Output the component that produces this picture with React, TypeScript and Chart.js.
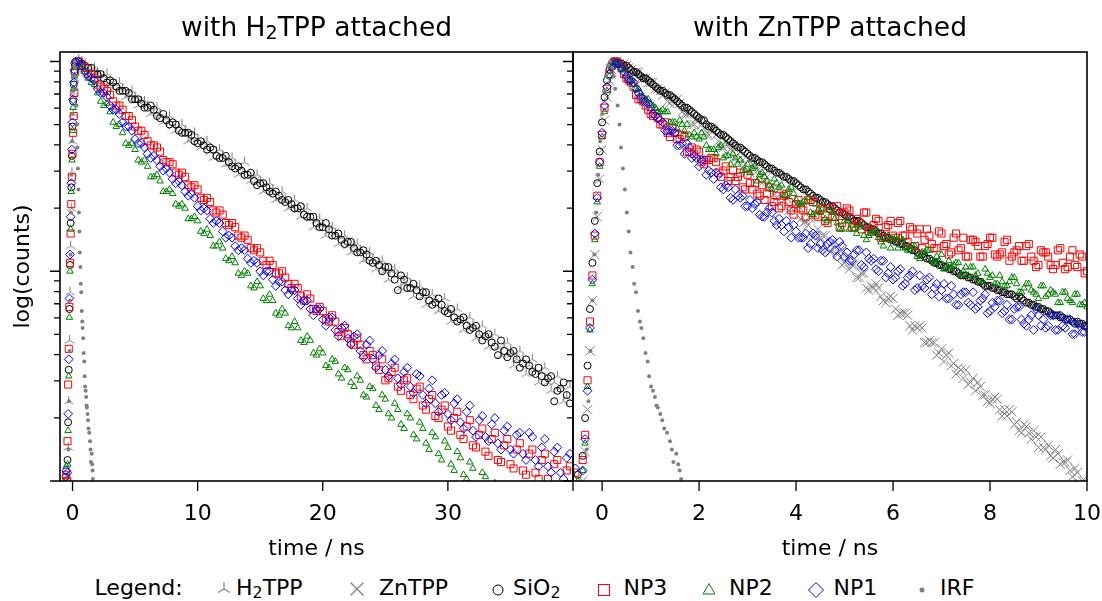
import React, { useEffect, useRef } from "react";
import { Chart, registerables } from "chart.js";
Chart.register(...registerables);

const FONT = "'DejaVu Sans', 'Liberation Sans', sans-serif";
const GRAY = "#808080";
const RED = "#ff0000";
const GREEN = "#008000";
const BLUE = "#0000ff";
const BLACK = "#000000";

// ---------- sample times (ns) ----------
const riseTimes = [-0.55, -0.5, -0.45, -0.4, -0.35, -0.3, -0.25, -0.2, -0.15, -0.1, -0.05, 0, 0.05, 0.1, 0.15, 0.2, 0.25];
const leftDecayTimes = [
  0.5, 1, 1.5, 2, 2.5, 3, 3.5, 4, 4.5, 5, 5.5, 6, 6.5, 7, 7.5, 8, 8.5, 9, 9.5, 10,
  10.5, 11, 11.5, 12, 12.5, 13, 13.5, 14, 14.5, 15, 15.5, 16, 16.5, 17, 17.5, 18, 18.5, 19, 19.5, 20,
  20.5, 21, 21.5, 22, 22.5, 23, 23.5, 24, 24.5, 25, 25.5, 26, 26.5, 27, 27.5, 28, 28.5, 29, 29.5, 30,
  30.5, 31, 31.5, 32, 32.5, 33, 33.5, 34, 34.5, 35, 35.5, 36, 36.5, 37, 37.5, 38, 38.5, 39, 39.5,
];
const leftMidTimes = [
  0.75, 1.25, 1.75, 2.25, 2.75, 3.25, 3.75, 4.25, 4.75, 5.25, 5.75, 6.25, 6.75, 7.25, 7.75, 8.25, 8.75, 9.25, 9.75, 10.25,
  10.75, 11.25, 11.75, 12.25, 12.75, 13.25, 13.75, 14.25, 14.75, 15.25, 15.75, 16.25, 16.75, 17.25, 17.75, 18.25, 18.75, 19.25, 19.75, 20.25,
  20.75, 21.25, 21.75, 22.25, 22.75, 23.25, 23.75, 24.25, 24.75, 25.25, 25.75, 26.25, 26.75, 27.25, 27.75, 28.25, 28.75, 29.25, 29.75, 30.25,
  30.75, 31.25, 31.75, 32.25, 32.75, 33.25, 33.75, 34.25, 34.75, 35.25, 35.75, 36.25, 36.75, 37.25, 37.75, 38.25, 38.75, 39.25, 39.75,
];
const rightDecayTimes = [
  0.3, 0.4, 0.5, 0.6, 0.7, 0.8, 0.9, 1.0, 1.1, 1.2, 1.3, 1.4, 1.5, 1.6, 1.7, 1.8, 1.9, 2.0, 2.1, 2.2,
  2.3, 2.4, 2.5, 2.6, 2.7, 2.8, 2.9, 3.0, 3.1, 3.2, 3.3, 3.4, 3.5, 3.6, 3.7, 3.8, 3.9, 4.0, 4.1, 4.2,
  4.3, 4.4, 4.5, 4.6, 4.7, 4.8, 4.9, 5.0, 5.1, 5.2, 5.3, 5.4, 5.5, 5.6, 5.7, 5.8, 5.9, 6.0, 6.1, 6.2,
  6.3, 6.4, 6.5, 6.6, 6.7, 6.8, 6.9, 7.0, 7.1, 7.2, 7.3, 7.4, 7.5, 7.6, 7.7, 7.8, 7.9, 8.0, 8.1, 8.2,
  8.3, 8.4, 8.5, 8.6, 8.7, 8.8, 8.9, 9.0, 9.1, 9.2, 9.3, 9.4, 9.5, 9.6, 9.7, 9.8, 9.9, 10.0,
];
const rightMidTimes = [
  0.35, 0.45, 0.55, 0.65, 0.75, 0.85, 0.95, 1.05, 1.15, 1.25, 1.35, 1.45, 1.55, 1.65, 1.75, 1.85, 1.95, 2.05, 2.15, 2.25,
  2.35, 2.45, 2.55, 2.65, 2.75, 2.85, 2.95, 3.05, 3.15, 3.25, 3.35, 3.45, 3.55, 3.65, 3.75, 3.85, 3.95, 4.05, 4.15, 4.25,
  4.35, 4.45, 4.55, 4.65, 4.75, 4.85, 4.95, 5.05, 5.15, 5.25, 5.35, 5.45, 5.55, 5.65, 5.75, 5.85, 5.95, 6.05, 6.15, 6.25,
  6.35, 6.45, 6.55, 6.65, 6.75, 6.85, 6.95, 7.05, 7.15, 7.25, 7.35, 7.45, 7.55, 7.65, 7.75, 7.85, 7.95, 8.05, 8.15, 8.25,
  8.35, 8.45, 8.55, 8.65, 8.75, 8.85, 8.95, 9.05, 9.15, 9.25, 9.35, 9.45, 9.55, 9.65, 9.75, 9.85, 9.95,
];
const irfTimes = [
  -0.36, -0.32, -0.28, -0.24, -0.2, -0.16, -0.12, -0.08, -0.04, 0.0, 0.04, 0.08, 0.12, 0.165, 0.21, 0.24, 0.27, 0.32, 0.36, 0.39,
  0.43, 0.47, 0.51, 0.55, 0.585, 0.63, 0.66, 0.7, 0.74, 0.78, 0.81, 0.85, 0.895, 0.94, 0.97, 1.01, 1.05, 1.09, 1.12, 1.15,
  1.2, 1.24, 1.28, 1.34, 1.4, 1.44, 1.47, 1.53, 1.57, 1.6, 1.63, 1.68,
];

// ---------- tick positions ----------
const leftXTicks = [0, 10, 20, 30, 40];
const rightXTicks = [0, 2, 4, 6, 8, 10];
const leftXRange = [-1, 40];
const rightXRange = [-0.6, 10];
const yRange = [0.01, 1.11];

// ---------- log10(normalised counts) ----------
const irfLog = [
  -2.05, -1.85, -1.62, -1.38, -1.14, -0.92, -0.72, -0.54, -0.38, -0.25, -0.14, -0.07, -0.02, 0.0, -0.03, -0.07, -0.13, -0.21, -0.3, -0.41,
  -0.51, -0.61, -0.72, -0.81, -0.91, -0.98, -1.06, -1.1, -1.19, -1.24, -1.27, -1.32, -1.39, -1.43, -1.5, -1.55, -1.57, -1.6, -1.64, -1.65,
  -1.68, -1.71, -1.75, -1.77, -1.81, -1.85, -1.91, -1.87, -1.92, -1.95, -1.99, -2.05,
];

// left panel (with H2TPP attached)
const h2tppRiseL = [-2.04, -2.1, -2.15, -1.98, -1.84, -1.62, -1.33, -1.1, -0.88, -0.7, -0.53, -0.38, -0.25, -0.15, -0.08, -0.03, -0.01];
const h2tppDecayL = [
  0.01, -0.01, -0.04, -0.05, -0.07, -0.1, -0.11, -0.13, -0.16, -0.17,
  -0.19, -0.21, -0.24, -0.25, -0.27, -0.31, -0.31, -0.33, -0.37, -0.37,
  -0.39, -0.43, -0.43, -0.45, -0.49, -0.49, -0.51, -0.55, -0.55, -0.57,
  -0.61, -0.61, -0.65, -0.66, -0.69, -0.71, -0.71, -0.75, -0.76, -0.78,
  -0.81, -0.82, -0.84, -0.88, -0.88, -0.9, -0.94, -0.94, -0.96, -1.0,
  -1.0, -1.02, -1.06, -1.06, -1.08, -1.12, -1.12, -1.14, -1.18, -1.18,
  -1.2, -1.24, -1.24, -1.26, -1.3, -1.3, -1.32, -1.36, -1.36, -1.38,
  -1.42, -1.42, -1.45, -1.47, -1.48, -1.53, -1.53, -1.55, -1.6,
];
const h2tppMidL = [
  0.0, -0.05, -0.03, -0.09, -0.06, -0.13, -0.1, -0.17, -0.14, -0.21,
  -0.19, -0.25, -0.22, -0.29, -0.26, -0.33, -0.3, -0.38, -0.34, -0.41,
  -0.38, -0.46, -0.42, -0.49, -0.46, -0.54, -0.48, -0.57, -0.54, -0.62,
  -0.58, -0.66, -0.62, -0.7, -0.66, -0.74, -0.7, -0.79, -0.75, -0.83,
  -0.79, -0.87, -0.83, -0.91, -0.87, -0.95, -0.91, -0.99, -0.95, -1.04,
  -0.99, -1.08, -1.03, -1.12, -1.07, -1.16, -1.11, -1.19, -1.13, -1.24,
  -1.18, -1.28, -1.22, -1.32, -1.26, -1.36, -1.3, -1.4, -1.34, -1.45,
  -1.38, -1.49, -1.42, -1.53, -1.46, -1.57, -1.5, -1.62, -1.55,
];
const sio2RiseL = [-1.98, -2.06, -2.05, -1.9, -1.72, -1.47, -1.18, -0.97, -0.77, -0.6, -0.45, -0.31, -0.19, -0.11, -0.05, -0.02, 0.0];
const sio2DecayL = [
  0.0, -0.02, -0.03, -0.06, -0.08, -0.09, -0.12, -0.14, -0.15, -0.18,
  -0.2, -0.22, -0.23, -0.27, -0.28, -0.29, -0.33, -0.34, -0.35, -0.39,
  -0.4, -0.41, -0.45, -0.46, -0.48, -0.51, -0.52, -0.54, -0.57, -0.58,
  -0.6, -0.63, -0.64, -0.67, -0.68, -0.7, -0.73, -0.74, -0.77, -0.79,
  -0.8, -0.83, -0.85, -0.86, -0.89, -0.91, -0.92, -0.96, -0.97, -0.98,
  -1.01, -1.09, -1.04, -1.08, -1.09, -1.1, -1.14, -1.15, -1.16, -1.2,
  -1.22, -1.23, -1.26, -1.27, -1.3, -1.31, -1.34, -1.4, -1.38, -1.39,
  -1.42, -1.44, -1.45, -1.49, -1.5, -1.51, -1.62, -1.56, -1.59,
];
const sio2MidL = [
  -0.01, -0.03, -0.06, -0.06, -0.1, -0.1, -0.14, -0.14, -0.18, -0.18,
  -0.22, -0.21, -0.26, -0.25, -0.3, -0.3, -0.34, -0.34, -0.38, -0.38,
  -0.42, -0.42, -0.46, -0.45, -0.5, -0.5, -0.54, -0.53, -0.59, -0.58,
  -0.62, -0.62, -0.66, -0.66, -0.7, -0.69, -0.74, -0.74, -0.79, -0.77,
  -0.83, -0.82, -0.87, -0.86, -0.91, -0.9, -0.95, -0.95, -1.0, -0.98,
  -1.04, -1.02, -1.08, -1.06, -1.12, -1.1, -1.16, -1.13, -1.19, -1.18,
  -1.24, -1.22, -1.28, -1.26, -1.33, -1.3, -1.36, -1.33, -1.41, -1.38,
  -1.46, -1.42, -1.48, -1.46, -1.53, -1.5, -1.57, -1.53, -1.63,
];
const np3RiseL = [-2.05, -1.97, -2.0, -1.81, -1.54, -1.37, -1.17, -0.96, -0.82, -0.68, -0.55, -0.44, -0.34, -0.26, -0.15, -0.05, -0.01];
const np3DecayL = [
  0.0, -0.03, -0.06, -0.11, -0.13, -0.16, -0.21, -0.23, -0.26, -0.31,
  -0.33, -0.38, -0.4, -0.43, -0.48, -0.49, -0.54, -0.55, -0.6, -0.61,
  -0.66, -0.67, -0.72, -0.73, -0.78, -0.79, -0.84, -0.85, -0.9, -0.91,
  -0.97, -0.97, -1.01, -1.03, -1.08, -1.08, -1.14, -1.13, -1.19, -1.19,
  -1.24, -1.24, -1.31, -1.3, -1.35, -1.35, -1.42, -1.4, -1.47, -1.52,
  -1.48, -1.55, -1.52, -1.59, -1.56, -1.64, -1.61, -1.69, -1.66, -1.74,
  -1.7, -1.78, -1.74, -1.83, -1.78, -1.86, -1.8, -1.9, -1.83, -1.92,
  -1.85, -1.95, -1.87, -1.96, -1.9, -1.99, -1.92, -2.02, -1.95,
];
const np3MidL = [
  -0.02, -0.06, -0.08, -0.12, -0.14, -0.19, -0.21, -0.26, -0.28, -0.33,
  -0.35, -0.4, -0.41, -0.47, -0.48, -0.53, -0.53, -0.59, -0.59, -0.65,
  -0.65, -0.71, -0.71, -0.77, -0.77, -0.83, -0.83, -0.89, -0.89, -0.95,
  -0.95, -1.01, -1.0, -1.06, -1.06, -1.12, -1.11, -1.18, -1.17, -1.23,
  -1.21, -1.29, -1.27, -1.34, -1.32, -1.4, -1.38, -1.45, -1.42, -1.51,
  -1.46, -1.57, -1.51, -1.61, -1.55, -1.66, -1.59, -1.7, -1.64, -1.76,
  -1.67, -1.8, -1.71, -1.84, -1.75, -1.88, -1.77, -1.91, -1.8, -1.94,
  -1.82, -1.97, -1.85, -1.99, -1.87, -2.02, -1.9, -2.03, -1.93,
];
const np2RiseL = [-2.08, -1.93, -2.08, -1.92, -1.76, -1.5, -1.22, -1.0, -0.8, -0.62, -0.47, -0.33, -0.22, -0.13, -0.07, -0.03, -0.01];
const np2DecayL = [
  -0.01, -0.05, -0.1, -0.15, -0.21, -0.24, -0.31, -0.34, -0.4, -0.42,
  -0.48, -0.5, -0.55, -0.57, -0.62, -0.63, -0.69, -0.7, -0.75, -0.76,
  -0.82, -0.83, -0.88, -0.89, -0.95, -0.96, -1.02, -1.01, -1.08, -1.07,
  -1.14, -1.14, -1.21, -1.2, -1.27, -1.27, -1.34, -1.33, -1.4, -1.39,
  -1.46, -1.43, -1.51, -1.47, -1.55, -1.52, -1.6, -1.56, -1.66, -1.61,
  -1.7, -1.66, -1.75, -1.7, -1.8, -1.75, -1.85, -1.79, -1.9, -1.84,
  -1.95, -1.89, -1.99, -1.94, -2.04, -1.98, -2.08, -2.03, -2.12, -2.08,
  -2.16, -2.12, -2.2, -2.16, -2.24, -2.2, -2.28, -2.24, -2.32,
];
const np2MidL = [
  -0.03, -0.08, -0.11, -0.19, -0.2, -0.29, -0.3, -0.39, -0.39, -0.47,
  -0.47, -0.55, -0.54, -0.62, -0.61, -0.68, -0.68, -0.75, -0.74, -0.81,
  -0.8, -0.88, -0.86, -0.94, -0.93, -1.01, -1.0, -1.07, -1.05, -1.13,
  -1.11, -1.2, -1.18, -1.26, -1.24, -1.33, -1.31, -1.39, -1.37, -1.45,
  -1.42, -1.49, -1.46, -1.53, -1.5, -1.59, -1.55, -1.64, -1.59, -1.68,
  -1.63, -1.73, -1.68, -1.78, -1.72, -1.82, -1.77, -1.87, -1.81, -1.92,
  -1.86, -1.97, -1.91, -2.02, -1.96, -2.06, -2.01, -2.1, -2.05, -2.14,
  -2.09, -2.18, -2.13, -2.22, -2.17, -2.26, -2.21, -2.3, -2.25,
];
const np1RiseL = [-2.02, -1.95, -2.12, -1.96, -1.68, -1.42, -1.13, -0.92, -0.74, -0.58, -0.42, -0.29, -0.18, -0.1, -0.04, -0.01, 0.0];
const np1DecayL = [
  0.0, -0.05, -0.08, -0.13, -0.15, -0.21, -0.23, -0.29, -0.31, -0.37,
  -0.39, -0.44, -0.45, -0.5, -0.51, -0.56, -0.57, -0.62, -0.63, -0.69,
  -0.7, -0.75, -0.76, -0.81, -0.83, -0.88, -0.89, -0.94, -0.95, -1.0,
  -1.0, -1.04, -1.05, -1.09, -1.09, -1.13, -1.14, -1.18, -1.18, -1.23,
  -1.22, -1.28, -1.27, -1.32, -1.31, -1.38, -1.35, -1.42, -1.4, -1.47,
  -1.44, -1.51, -1.48, -1.55, -1.49, -1.59, -1.56, -1.63, -1.59, -1.68,
  -1.63, -1.72, -1.67, -1.76, -1.71, -1.79, -1.73, -1.82, -1.76, -1.85,
  -1.78, -1.87, -1.77, -1.9, -1.84, -1.93, -1.86, -1.96, -1.89,
];
const np1MidL = [
  -0.02, -0.07, -0.09, -0.15, -0.17, -0.23, -0.25, -0.31, -0.33, -0.39,
  -0.41, -0.46, -0.47, -0.52, -0.53, -0.58, -0.59, -0.64, -0.65, -0.71,
  -0.71, -0.77, -0.77, -0.84, -0.84, -0.9, -0.9, -0.96, -0.96, -1.02,
  -1.0, -1.07, -1.05, -1.11, -1.09, -1.16, -1.14, -1.21, -1.18, -1.26,
  -1.22, -1.31, -1.26, -1.35, -1.3, -1.41, -1.33, -1.46, -1.38, -1.5,
  -1.42, -1.54, -1.46, -1.58, -1.5, -1.63, -1.52, -1.67, -1.58, -1.71,
  -1.61, -1.75, -1.64, -1.79, -1.69, -1.81, -1.7, -1.85, -1.74, -1.87,
  -1.77, -1.9, -1.79, -1.93, -1.8, -1.96, -1.84, -1.99, -1.87,
];

// right panel (with ZnTPP attached)
const zntppRiseR = [-2.03, -2.12, -2.15, -2.0, -1.86, -1.66, -1.38, -1.14, -0.92, -0.74, -0.56, -0.42, -0.28, -0.17, -0.09, -0.04, -0.01];
const zntppDecayR = [
  0.0, -0.02, -0.02, -0.04, -0.05, -0.08, -0.08, -0.1, -0.13, -0.14,
  -0.15, -0.2, -0.2, -0.2, -0.25, -0.25, -0.3, -0.28, -0.32, -0.35,
  -0.33, -0.38, -0.41, -0.4, -0.4, -0.47, -0.47, -0.52, -0.49, -0.52,
  -0.58, -0.55, -0.59, -0.65, -0.64, -0.65, -0.7, -0.68, -0.75, -0.76,
  -0.75, -0.83, -0.84, -0.83, -0.91, -0.89, -0.9, -0.96, -0.99, -0.97,
  -1.03, -1.01, -1.09, -1.08, -1.08, -1.14, -1.13, -1.13, -1.21, -1.2,
  -1.21, -1.28, -1.27, -1.27, -1.34, -1.34, -1.4, -1.37, -1.4, -1.45,
  -1.49, -1.47, -1.47, -1.53, -1.57, -1.55, -1.59, -1.63, -1.6, -1.66,
  -1.66, -1.66, -1.73, -1.76, -1.73, -1.77, -1.76, -1.84, -1.84, -1.83,
  -1.89, -1.87, -1.91, -1.9, -1.98, -1.96, -2.0, -2.02,
];
const zntppMidR = [
  -0.01, -0.01, -0.03, -0.06, -0.05, -0.08, -0.1, -0.1, -0.13, -0.16,
  -0.19, -0.18, -0.18, -0.24, -0.25, -0.3, -0.27, -0.3, -0.35, -0.32,
  -0.35, -0.41, -0.38, -0.42, -0.46, -0.43, -0.49, -0.53, -0.5, -0.55,
  -0.54, -0.6, -0.63, -0.61, -0.66, -0.71, -0.69, -0.69, -0.77, -0.78,
  -0.83, -0.8, -0.83, -0.89, -0.86, -0.92, -0.97, -0.94, -0.97, -1.03,
  -1.01, -1.08, -1.07, -1.06, -1.12, -1.15, -1.12, -1.18, -1.2, -1.2,
  -1.26, -1.26, -1.26, -1.34, -1.33, -1.34, -1.39, -1.43, -1.39, -1.44,
  -1.46, -1.51, -1.54, -1.51, -1.53, -1.59, -1.62, -1.61, -1.61, -1.69,
  -1.69, -1.67, -1.72, -1.77, -1.74, -1.8, -1.79, -1.79, -1.85, -1.88,
  -1.85, -1.92, -1.91, -1.95, -1.94, -2.01, -2.0,
];
const sio2RiseR = [-2.1, -1.97, -2.05, -1.88, -1.7, -1.45, -1.18, -0.96, -0.76, -0.58, -0.43, -0.29, -0.17, -0.09, -0.04, -0.01, 0.0];
const sio2DecayR = [
  0.0, -0.01, -0.02, -0.04, -0.05, -0.07, -0.08, -0.1, -0.12, -0.14,
  -0.15, -0.16, -0.18, -0.2, -0.22, -0.23, -0.25, -0.27, -0.28, -0.31,
  -0.32, -0.34, -0.35, -0.37, -0.39, -0.41, -0.42, -0.44, -0.46, -0.47,
  -0.48, -0.5, -0.51, -0.53, -0.54, -0.55, -0.57, -0.58, -0.6, -0.61,
  -0.63, -0.65, -0.66, -0.67, -0.69, -0.7, -0.72, -0.73, -0.74, -0.76,
  -0.76, -0.78, -0.79, -0.8, -0.82, -0.83, -0.84, -0.85, -0.86, -0.87,
  -0.88, -0.9, -0.91, -0.92, -0.94, -0.95, -0.96, -0.97, -0.98, -0.99,
  -1.0, -1.02, -1.02, -1.03, -1.04, -1.05, -1.07, -1.07, -1.08, -1.09,
  -1.1, -1.11, -1.12, -1.12, -1.14, -1.15, -1.16, -1.17, -1.18, -1.19,
  -1.21, -1.21, -1.22, -1.23, -1.24, -1.24, -1.25, -1.26,
];
const sio2MidR = [
  -0.01, -0.02, -0.03, -0.05, -0.06, -0.08, -0.09, -0.11, -0.13, -0.14,
  -0.16, -0.17, -0.19, -0.21, -0.22, -0.24, -0.26, -0.28, -0.3, -0.31,
  -0.33, -0.35, -0.36, -0.38, -0.4, -0.41, -0.43, -0.45, -0.46, -0.48,
  -0.49, -0.51, -0.52, -0.53, -0.55, -0.56, -0.57, -0.59, -0.61, -0.62,
  -0.64, -0.65, -0.67, -0.68, -0.69, -0.71, -0.72, -0.74, -0.75, -0.76,
  -0.77, -0.79, -0.8, -0.81, -0.82, -0.84, -0.85, -0.86, -0.87, -0.88,
  -0.89, -0.9, -0.92, -0.93, -0.94, -0.96, -0.97, -0.98, -0.99, -1.0,
  -1.01, -1.02, -1.03, -1.04, -1.05, -1.06, -1.07, -1.08, -1.09, -1.1,
  -1.11, -1.11, -1.13, -1.13, -1.15, -1.16, -1.17, -1.18, -1.19, -1.2,
  -1.21, -1.22, -1.23, -1.23, -1.25, -1.25, -1.26,
];
const np3RiseR = [-1.96, -2.04, -2.08, -1.9, -1.78, -1.52, -1.24, -1.02, -0.83, -0.64, -0.48, -0.35, -0.22, -0.13, -0.06, -0.02, 0.0];
const np3DecayR = [
  0.0, -0.03, -0.08, -0.1, -0.16, -0.18, -0.21, -0.25, -0.25, -0.3,
  -0.29, -0.36, -0.34, -0.37, -0.36, -0.43, -0.44, -0.43, -0.49, -0.47,
  -0.46, -0.53, -0.52, -0.57, -0.52, -0.55, -0.6, -0.54, -0.61, -0.63,
  -0.59, -0.63, -0.69, -0.64, -0.69, -0.63, -0.71, -0.68, -0.7, -0.74,
  -0.66, -0.73, -0.71, -0.76, -0.7, -0.74, -0.79, -0.72, -0.71, -0.79,
  -0.77, -0.72, -0.81, -0.78, -0.76, -0.84, -0.78, -0.83, -0.77, -0.83,
  -0.86, -0.8, -0.82, -0.89, -0.8, -0.87, -0.89, -0.82, -0.87, -0.91,
  -0.82, -0.89, -0.93, -0.85, -0.86, -0.93, -0.88, -0.84, -0.92, -0.92,
  -0.86, -0.95, -0.91, -0.88, -0.95, -0.87, -0.95, -0.97, -0.91, -0.93,
  -0.99, -0.9, -0.96, -0.98, -0.9, -0.98, -0.93, -1.0,
];
const np3MidR = [
  -0.01, -0.06, -0.09, -0.12, -0.18, -0.19, -0.23, -0.26, -0.27, -0.3,
  -0.34, -0.32, -0.37, -0.35, -0.43, -0.41, -0.42, -0.48, -0.47, -0.46,
  -0.48, -0.55, -0.5, -0.55, -0.57, -0.53, -0.61, -0.58, -0.58, -0.64,
  -0.66, -0.6, -0.67, -0.7, -0.64, -0.67, -0.73, -0.66, -0.71, -0.66,
  -0.67, -0.74, -0.7, -0.77, -0.74, -0.69, -0.77, -0.7, -0.79, -0.75,
  -0.8, -0.72, -0.8, -0.75, -0.84, -0.79, -0.76, -0.84, -0.76, -0.83,
  -0.79, -0.88, -0.8, -0.85, -0.83, -0.89, -0.81, -0.88, -0.92, -0.84,
  -0.9, -0.84, -0.93, -0.85, -0.88, -0.93, -0.87, -0.84, -0.93, -0.91,
  -0.85, -0.93, -0.9, -0.95, -0.88, -0.93, -0.98, -0.9, -0.91, -0.97,
  -0.97, -0.89, -0.99, -0.93, -0.97, -0.92, -1.01,
];
const np2RiseR = [-2.06, -2.0, -2.1, -1.95, -1.82, -1.55, -1.28, -1.06, -0.85, -0.67, -0.5, -0.36, -0.24, -0.14, -0.07, -0.03, -0.01];
const np2DecayR = [
  0.0, -0.04, -0.06, -0.09, -0.13, -0.15, -0.18, -0.2, -0.22, -0.24,
  -0.24, -0.29, -0.29, -0.28, -0.33, -0.35, -0.34, -0.37, -0.36, -0.42,
  -0.42, -0.41, -0.46, -0.45, -0.44, -0.49, -0.52, -0.49, -0.51, -0.57,
  -0.53, -0.57, -0.61, -0.58, -0.59, -0.64, -0.6, -0.66, -0.68, -0.67,
  -0.72, -0.68, -0.72, -0.75, -0.71, -0.75, -0.8, -0.76, -0.8, -0.8,
  -0.78, -0.83, -0.83, -0.81, -0.84, -0.88, -0.83, -0.85, -0.89, -0.85,
  -0.9, -0.88, -0.93, -0.91, -0.9, -0.95, -0.93, -0.92, -0.98, -0.98,
  -0.96, -1.02, -0.98, -0.98, -1.02, -1.05, -0.99, -1.03, -1.06, -1.02,
  -1.07, -1.05, -1.03, -1.1, -1.08, -1.06, -1.1, -1.13, -1.07, -1.11,
  -1.1, -1.15, -1.1, -1.13, -1.15, -1.11, -1.16, -1.17,
];
const np2MidR = [
  -0.02, -0.04, -0.09, -0.11, -0.13, -0.17, -0.18, -0.21, -0.24, -0.23,
  -0.24, -0.29, -0.32, -0.3, -0.3, -0.36, -0.36, -0.34, -0.4, -0.42,
  -0.44, -0.4, -0.45, -0.49, -0.46, -0.47, -0.52, -0.53, -0.5, -0.54,
  -0.55, -0.59, -0.56, -0.6, -0.64, -0.61, -0.63, -0.68, -0.67, -0.65,
  -0.73, -0.71, -0.7, -0.76, -0.72, -0.77, -0.8, -0.76, -0.78, -0.82,
  -0.79, -0.85, -0.82, -0.81, -0.86, -0.85, -0.89, -0.84, -0.84, -0.89,
  -0.9, -0.88, -0.94, -0.91, -0.9, -0.96, -0.95, -0.99, -0.95, -0.97,
  -0.96, -1.0, -1.02, -0.98, -1.01, -1.05, -1.01, -1.02, -1.06, -1.05,
  -1.07, -1.03, -1.06, -1.1, -1.06, -1.09, -1.11, -1.07, -1.12, -1.09,
  -1.11, -1.15, -1.1, -1.14, -1.11, -1.16, -1.15,
];
const np1RiseR = [-1.94, -2.08, -2.12, -1.95, -1.8, -1.57, -1.27, -1.04, -0.82, -0.65, -0.48, -0.34, -0.21, -0.12, -0.06, -0.02, -0.01];
const np1DecayR = [
  -0.01, -0.03, -0.07, -0.09, -0.13, -0.17, -0.19, -0.22, -0.26, -0.28,
  -0.33, -0.33, -0.34, -0.4, -0.44, -0.41, -0.45, -0.5, -0.47, -0.52,
  -0.56, -0.54, -0.61, -0.6, -0.66, -0.64, -0.64, -0.69, -0.7, -0.67,
  -0.74, -0.72, -0.72, -0.78, -0.78, -0.76, -0.84, -0.81, -0.84, -0.82,
  -0.87, -0.83, -0.87, -0.91, -0.86, -0.9, -0.86, -0.93, -0.95, -0.92,
  -0.9, -0.98, -0.94, -0.94, -1.0, -0.95, -1.01, -1.04, -1.0, -1.07,
  -1.03, -1.0, -1.08, -1.07, -1.04, -1.11, -1.06, -1.09, -1.13, -1.07,
  -1.16, -1.11, -1.1, -1.16, -1.18, -1.14, -1.11, -1.19, -1.17, -1.14,
  -1.19, -1.23, -1.18, -1.17, -1.25, -1.23, -1.28, -1.21, -1.23, -1.26,
  -1.21, -1.28, -1.26, -1.23, -1.3, -1.25, -1.29, -1.27,
];
const np1MidR = [
  -0.01, -0.05, -0.09, -0.1, -0.15, -0.19, -0.2, -0.25, -0.27, -0.29,
  -0.33, -0.33, -0.4, -0.39, -0.39, -0.46, -0.46, -0.47, -0.54, -0.53,
  -0.53, -0.6, -0.59, -0.65, -0.61, -0.65, -0.69, -0.66, -0.68, -0.73,
  -0.74, -0.7, -0.76, -0.75, -0.81, -0.79, -0.78, -0.84, -0.84, -0.89,
  -0.82, -0.89, -0.9, -0.87, -0.85, -0.93, -0.88, -0.91, -0.95, -0.9,
  -0.97, -0.91, -0.95, -0.99, -0.95, -1.03, -0.98, -1.03, -0.99, -1.06,
  -1.02, -1.09, -1.02, -1.08, -1.03, -1.08, -1.12, -1.06, -1.13, -1.11,
  -1.16, -1.1, -1.15, -1.1, -1.17, -1.13, -1.2, -1.15, -1.14, -1.2,
  -1.16, -1.23, -1.17, -1.23, -1.26, -1.21, -1.18, -1.26, -1.27, -1.21,
  -1.28, -1.21, -1.27, -1.23, -1.3, -1.26, -1.29,
];

function pts(times: number[], logs: number[]) {
  return times.map((t, i) => ({ x: t, y: Math.pow(10, logs[i]) }));
}

function makeTriUp(color: string, len: number) {
  const c = document.createElement("canvas");
  const s = Math.ceil(len * 2 + 4);
  c.width = s;
  c.height = s;
  const g = c.getContext("2d")!;
  g.strokeStyle = color;
  g.lineWidth = 1;
  const cx = s / 2;
  const cy = s / 2;
  g.beginPath();
  g.moveTo(cx, cy);
  g.lineTo(cx, cy - len);
  g.moveTo(cx, cy);
  g.lineTo(cx - len * 0.866, cy + len * 0.5);
  g.moveTo(cx, cy);
  g.lineTo(cx + len * 0.866, cy + len * 0.5);
  g.stroke();
  return c;
}

const frameTicks = {
  id: "frameTicks",
  afterDraw(chart: any) {
    const { ctx, chartArea: a, scales } = chart;
    const xs = scales.x;
    const ys = scales.y;
    ctx.save();
    ctx.strokeStyle = "#000";
    ctx.lineWidth = 1.3;
    ctx.beginPath();
    xs.ticks.forEach((t: any) => {
      const px = xs.getPixelForValue(t.value);
      ctx.moveTo(px, a.bottom);
      ctx.lineTo(px, a.bottom + 10);
    });
    ys.ticks.forEach((t: any) => {
      const v = t.value;
      const e = Math.floor(Math.log10(v) + 1e-9);
      const m = v / Math.pow(10, e);
      if (Math.abs(m - Math.round(m)) > 1e-6) return;
      const py = ys.getPixelForValue(v);
      const len = Math.round(m) === 1 ? 10 : 6;
      ctx.moveTo(a.left - len, py);
      ctx.lineTo(a.left, py);
    });
    ctx.stroke();
    ctx.lineWidth = 1.6;
    ctx.strokeRect(a.left, a.top, a.right - a.left, a.bottom - a.top);
    ctx.restore();
  },
};

function ds(label: string, data: any[], color: string, style: any, radius: number, order: number, filled = false) {
  return {
    label,
    data,
    pointStyle: style,
    pointRadius: radius,
    pointBorderWidth: filled ? 0 : 1,
    borderColor: color,
    backgroundColor: filled ? color : "rgba(0,0,0,0)",
    pointBorderColor: color,
    pointBackgroundColor: filled ? color : "rgba(0,0,0,0)",
    showLine: false,
    clip: 0,
    order,
  };
}

function makeConfig(
  datasets: any[],
  xr: number[],
  tickVals: number[],
  hideVal: number | null,
  padRight: number,
  yWidth: number,
  showYTitle: boolean
) {
  return {
    type: "scatter",
    data: { datasets },
    options: {
      animation: false,
      responsive: false,
      events: [],
      layout: { padding: { left: 0, top: 52, right: padRight, bottom: 0 } },
      plugins: { legend: { display: false }, tooltip: { enabled: false }, title: { display: false } },
      scales: {
        x: {
          type: "linear",
          min: xr[0],
          max: xr[1],
          bounds: "data",
          grid: { display: false, drawTicks: false },
          border: { display: false },
          afterBuildTicks: (s: any) => {
            s.ticks = tickVals.map((v) => ({ value: v }));
          },
          ticks: {
            padding: 0,
            color: "#000",
            maxRotation: 0,
            autoSkip: false,
            font: { family: FONT, size: 22, lineHeight: 3.036 },
            callback: (v: any) => (hideVal !== null && Math.abs(v - hideVal) < 1e-9 ? "" : String(v)),
          },
          title: {
            display: true,
            text: "time / ns",
            color: "#000",
            font: { family: FONT, size: 22 },
            padding: { top: 0, bottom: 8 },
          },
          afterFit: (s: any) => {
            s.height = 89;
          },
        },
        y: {
          type: "logarithmic",
          min: yRange[0],
          max: yRange[1],
          grid: { display: false, drawTicks: false },
          border: { display: false },
          ticks: { display: false },
          title: {
            display: showYTitle,
            text: "log(counts)",
            color: "#000",
            font: { family: FONT, size: 22 },
            padding: { top: 10, bottom: 0 },
          },
          afterFit: (s: any) => {
            s.width = yWidth;
          },
        },
      },
    },
    plugins: [frameTicks],
  };
}

function Txt({ x, base, size, children, center }: any) {
  const style: any = {
    position: "absolute",
    top: base - 0.846 * size,
    fontSize: size,
    lineHeight: size + "px",
    whiteSpace: "nowrap",
  };
  if (center) {
    style.left = x - 400;
    style.width = 800;
    style.textAlign = "center";
  } else {
    style.left = x;
  }
  return <div style={style}>{children}</div>;
}

const Sub = ({ children }: any) => (
  <span style={{ fontSize: "0.72em", position: "relative", top: "0.17em", lineHeight: 0 }}>{children}</span>
);

function Marker({ cx, cy, children }: any) {
  return (
    <svg style={{ position: "absolute", left: cx - 10, top: cy - 10 }} width={20} height={20}>
      {children}
    </svg>
  );
}

export default function App() {
  const leftRef = useRef<HTMLCanvasElement>(null);
  const rightRef = useRef<HTMLCanvasElement>(null);

  useEffect(() => {
    document.body.style.margin = "0";
    const triUp = makeTriUp(GRAY, 5.5);
    const irf = pts(irfTimes, irfLog);
    const lt = [...riseTimes, ...leftDecayTimes, ...leftMidTimes];
    const rt = [...riseTimes, ...rightDecayTimes, ...rightMidTimes];
    const leftSets = [
      ds("H2TPP", pts(lt, [...h2tppRiseL, ...h2tppDecayL, ...h2tppMidL]), GRAY, triUp, 5, 6),
      ds("SiO2", pts(lt, [...sio2RiseL, ...sio2DecayL, ...sio2MidL]), BLACK, "circle", 3.5, 5),
      ds("NP3", pts(lt, [...np3RiseL, ...np3DecayL, ...np3MidL]), RED, "rect", 5, 4),
      ds("NP2", pts(lt, [...np2RiseL, ...np2DecayL, ...np2MidL]), GREEN, "triangle", 3.8, 3),
      ds("NP1", pts(lt, [...np1RiseL, ...np1DecayL, ...np1MidL]), BLUE, "rectRot", 4.4, 2),
      ds("IRF", irf, GRAY, "circle", 2, 1, true),
    ];
    const rightSets = [
      ds("ZnTPP", pts(rt, [...zntppRiseR, ...zntppDecayR, ...zntppMidR]), GRAY, "crossRot", 6.5, 6),
      ds("SiO2", pts(rt, [...sio2RiseR, ...sio2DecayR, ...sio2MidR]), BLACK, "circle", 3.5, 5),
      ds("NP3", pts(rt, [...np3RiseR, ...np3DecayR, ...np3MidR]), RED, "rect", 5, 4),
      ds("NP2", pts(rt, [...np2RiseR, ...np2DecayR, ...np2MidR]), GREEN, "triangle", 3.8, 3),
      ds("NP1", pts(rt, [...np1RiseR, ...np1DecayR, ...np1MidR]), BLUE, "rectRot", 4.4, 2),
      ds("IRF", irf, GRAY, "circle", 2, 1, true),
    ];
    const c1 = new Chart(leftRef.current as any, makeConfig(leftSets, leftXRange, leftXTicks, 40, 7, 60, true) as any);
    const c2 = new Chart(rightRef.current as any, makeConfig(rightSets, rightXRange, rightXTicks, null, 15, 20, false) as any);
    return () => {
      c1.destroy();
      c2.destroy();
    };
  }, []);

  const LY = 589;
  return (
    <div
      style={{
        position: "relative",
        width: 1102,
        height: 601,
        background: "#fff",
        fontFamily: FONT,
        color: "#000",
        overflow: "hidden",
      }}
    >
      <canvas ref={leftRef} width={580} height={570} style={{ position: "absolute", left: 0, top: 0 }} />
      <canvas ref={rightRef} width={549} height={570} style={{ position: "absolute", left: 553, top: 0 }} />

      <Txt x={316.5} base={36} size={26.5} center>
        with H<Sub>2</Sub>TPP attached
      </Txt>
      <Txt x={830} base={36} size={26.5} center>
        with ZnTPP attached
      </Txt>

      <Txt x={94.5} base={596} size={22}>Legend:</Txt>
      <Marker cx={224} cy={LY}>
        <g stroke={GRAY} strokeWidth={1.2} fill="none">
          <line x1={10} y1={10} x2={10} y2={3.2} />
          <line x1={10} y1={10} x2={4.1} y2={13.4} />
          <line x1={10} y1={10} x2={15.9} y2={13.4} />
        </g>
      </Marker>
      <Txt x={236} base={596} size={22}>
        H<Sub>2</Sub>TPP
      </Txt>
      <Marker cx={357} cy={LY}>
        <g stroke={GRAY} strokeWidth={1.2}>
          <line x1={3.5} y1={3.5} x2={16.5} y2={16.5} />
          <line x1={16.5} y1={3.5} x2={3.5} y2={16.5} />
        </g>
      </Marker>
      <Txt x={379} base={596} size={22}>ZnTPP</Txt>
      <Marker cx={498} cy={LY + 1}>
        <circle cx={10} cy={10} r={5} stroke={BLACK} strokeWidth={1} fill="none" />
      </Marker>
      <Txt x={513} base={596} size={22}>
        SiO<Sub>2</Sub>
      </Txt>
      <Marker cx={603.5} cy={LY + 1}>
        <rect x={4.5} y={4.5} width={11} height={11} stroke={RED} strokeWidth={1} fill="none" />
      </Marker>
      <Txt x={623.5} base={596} size={22}>NP3</Txt>
      <Marker cx={709} cy={LY + 1}>
        <polygon points="10,3.5 4,14 16,14" stroke={GREEN} strokeWidth={1} fill="none" />
      </Marker>
      <Txt x={729} base={596} size={22}>NP2</Txt>
      <Marker cx={816} cy={LY + 1}>
        <polygon points="10,2.5 17.5,10 10,17.5 2.5,10" stroke={BLUE} strokeWidth={1} fill="none" />
      </Marker>
      <Txt x={833.5} base={596} size={22}>NP1</Txt>
      <Marker cx={921.6} cy={LY + 1}>
        <circle cx={10} cy={10} r={2.5} fill={GRAY} />
      </Marker>
      <Txt x={940} base={596} size={22}>IRF</Txt>
    </div>
  );
}
